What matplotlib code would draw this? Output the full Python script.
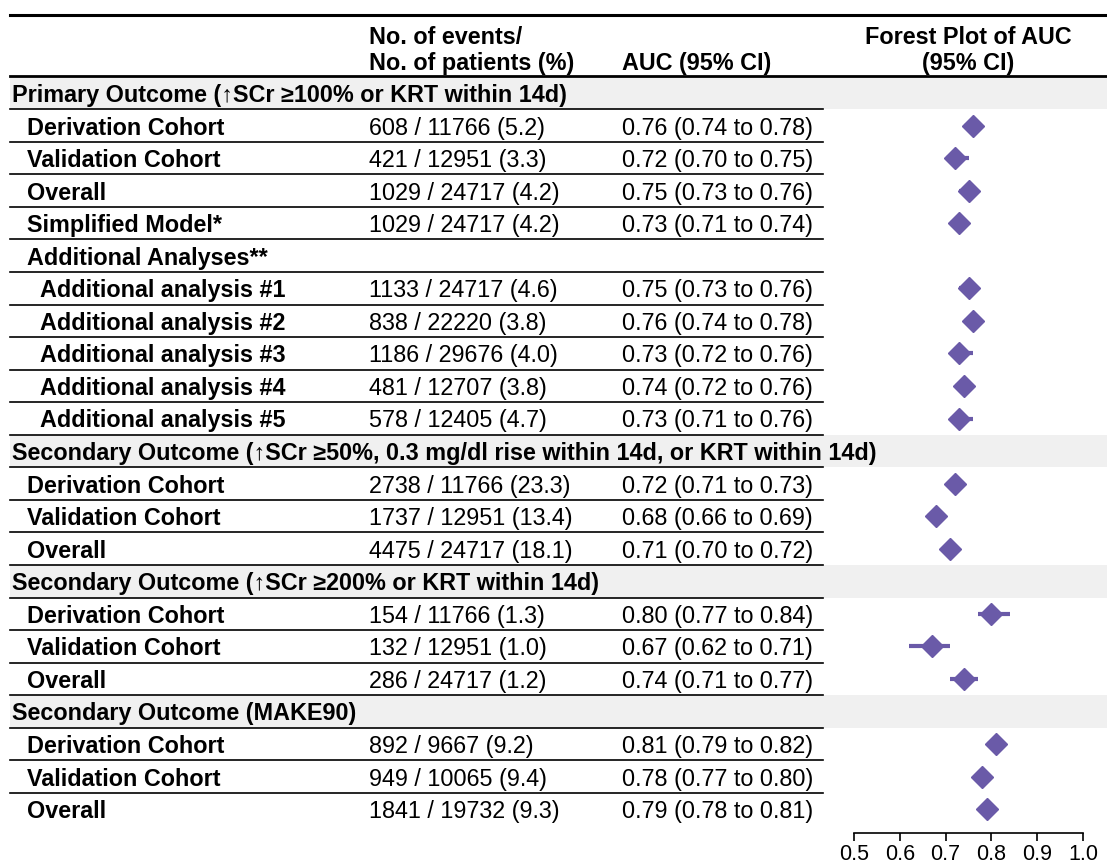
import numpy as np
import matplotlib
matplotlib.use("Agg")
import matplotlib.pyplot as plt

plt.rcParams["font.family"] = ["Liberation Sans", "DejaVu Sans"]

# ---- data ----
labels = [
    "Primary Outcome (\u2191SCr \u2265100% or KRT within 14d)",
    "Derivation Cohort", "Validation Cohort", "Overall", "Simplified Model*",
    "Additional Analyses**",
    "Additional analysis #1", "Additional analysis #2", "Additional analysis #3",
    "Additional analysis #4", "Additional analysis #5",
    "Secondary Outcome (\u2191SCr \u226550%, 0.3 mg/dl rise within 14d, or KRT within 14d)",
    "Derivation Cohort", "Validation Cohort", "Overall",
    "Secondary Outcome (\u2191SCr \u2265200% or KRT within 14d)",
    "Derivation Cohort", "Validation Cohort", "Overall",
    "Secondary Outcome (MAKE90)",
    "Derivation Cohort", "Validation Cohort", "Overall",
]
# 0 = outcome header (grey band), 1 = sub row, 2 = additional analysis item
levels = [0, 1, 1, 1, 1, 1, 2, 2, 2, 2, 2, 0, 1, 1, 1, 0, 1, 1, 1, 0, 1, 1, 1]
events = [
    "", "608 / 11766 (5.2)", "421 / 12951 (3.3)", "1029 / 24717 (4.2)", "1029 / 24717 (4.2)",
    "", "1133 / 24717 (4.6)", "838 / 22220 (3.8)", "1186 / 29676 (4.0)",
    "481 / 12707 (3.8)", "578 / 12405 (4.7)",
    "", "2738 / 11766 (23.3)", "1737 / 12951 (13.4)", "4475 / 24717 (18.1)",
    "", "154 / 11766 (1.3)", "132 / 12951 (1.0)", "286 / 24717 (1.2)",
    "", "892 / 9667 (9.2)", "949 / 10065 (9.4)", "1841 / 19732 (9.3)",
]
auc = [np.nan, 0.76, 0.72, 0.75, 0.73, np.nan, 0.75, 0.76, 0.73, 0.74, 0.73,
       np.nan, 0.72, 0.68, 0.71, np.nan, 0.80, 0.67, 0.74, np.nan, 0.81, 0.78, 0.79]
lo = [np.nan, 0.74, 0.70, 0.73, 0.71, np.nan, 0.73, 0.74, 0.72, 0.72, 0.71,
      np.nan, 0.71, 0.66, 0.70, np.nan, 0.77, 0.62, 0.71, np.nan, 0.79, 0.77, 0.78]
hi = [np.nan, 0.78, 0.75, 0.76, 0.74, np.nan, 0.76, 0.78, 0.76, 0.76, 0.76,
      np.nan, 0.73, 0.69, 0.72, np.nan, 0.84, 0.71, 0.77, np.nan, 0.82, 0.80, 0.81]
xticks = [0.5, 0.6, 0.7, 0.8, 0.9, 1.0]

auc = np.array(auc)
lo = np.array(lo)
hi = np.array(hi)

# ---- layout (pixels) ----
W, H = 1107, 867
row0, row_h = 93.0, 32.55
fs = 16.8
purple = "#6a5aa8"
band = "#f0f0f0"

fig = plt.figure(figsize=(W / 100, H / 100), dpi=100)
ax = fig.add_axes([0, 0, 1, 1])
ax.set_xlim(0, W)
ax.set_ylim(H, 0)
ax.axis("off")

ys = row0 + row_h * np.arange(len(labels))
va = "center_baseline"

# header
ax.plot([10, W], [15, 15], color="black", lw=2.2)
ax.plot([10, W], [76, 76], color="black", lw=2.0)
ax.text(369, 35, "No. of events/", fontsize=fs, fontweight="bold", va=va)
ax.text(369, 61, "No. of patients (%)", fontsize=fs, fontweight="bold", va=va)
ax.text(622, 61, "AUC (95% CI)", fontsize=fs, fontweight="bold", va=va)
ax.text(968, 35, "Forest Plot of AUC", fontsize=fs, fontweight="bold", va=va, ha="center")
ax.text(968, 61, "(95% CI)", fontsize=fs, fontweight="bold", va=va, ha="center")

indent = {0: 12, 1: 27, 2: 40}
for i, y in enumerate(ys):
    if levels[i] == 0:
        ax.fill_between([10, W], y - row_h / 2, y + row_h / 2, color=band, lw=0, zorder=0)
    ax.text(indent[levels[i]], y, labels[i], fontsize=fs, fontweight="bold", va=va)
    if events[i]:
        ax.text(369, y, events[i], fontsize=fs, va=va)
    if not np.isnan(auc[i]):
        ax.text(622, y, "%.2f (%.2f to %.2f)" % (auc[i], lo[i], hi[i]), fontsize=fs, va=va)
    if i < len(labels) - 1:
        ax.plot([10, 823], [y + row_h / 2] * 2, color="black", lw=1.2)

# forest plot
x0, x1 = 854, 1083
ybot, ytop = 833, 77
fax = fig.add_axes([x0 / W, (H - ybot) / H, (x1 - x0) / W, (ybot - ytop) / H])
fax.patch.set_alpha(0)
fax.set_xlim(0.5, 1.0)
fax.set_ylim(ybot, ytop)
m = ~np.isnan(auc)
fax.hlines(ys[m], lo[m], hi[m], color=purple, lw=3.0, capstyle="butt", zorder=2)
fax.plot(auc[m], ys[m], "D", color=purple, ms=11, mec=purple, zorder=3)
for s in ["top", "right", "left"]:
    fax.spines[s].set_visible(False)
fax.spines["bottom"].set_linewidth(1.2)
fax.set_yticks([])
fax.set_xticks(xticks)
fax.set_xticklabels(["%.1f" % t for t in xticks])
fax.tick_params(axis="x", labelsize=15.5, length=6, width=1.2, pad=2)

fig.savefig("out.png", dpi=100)
